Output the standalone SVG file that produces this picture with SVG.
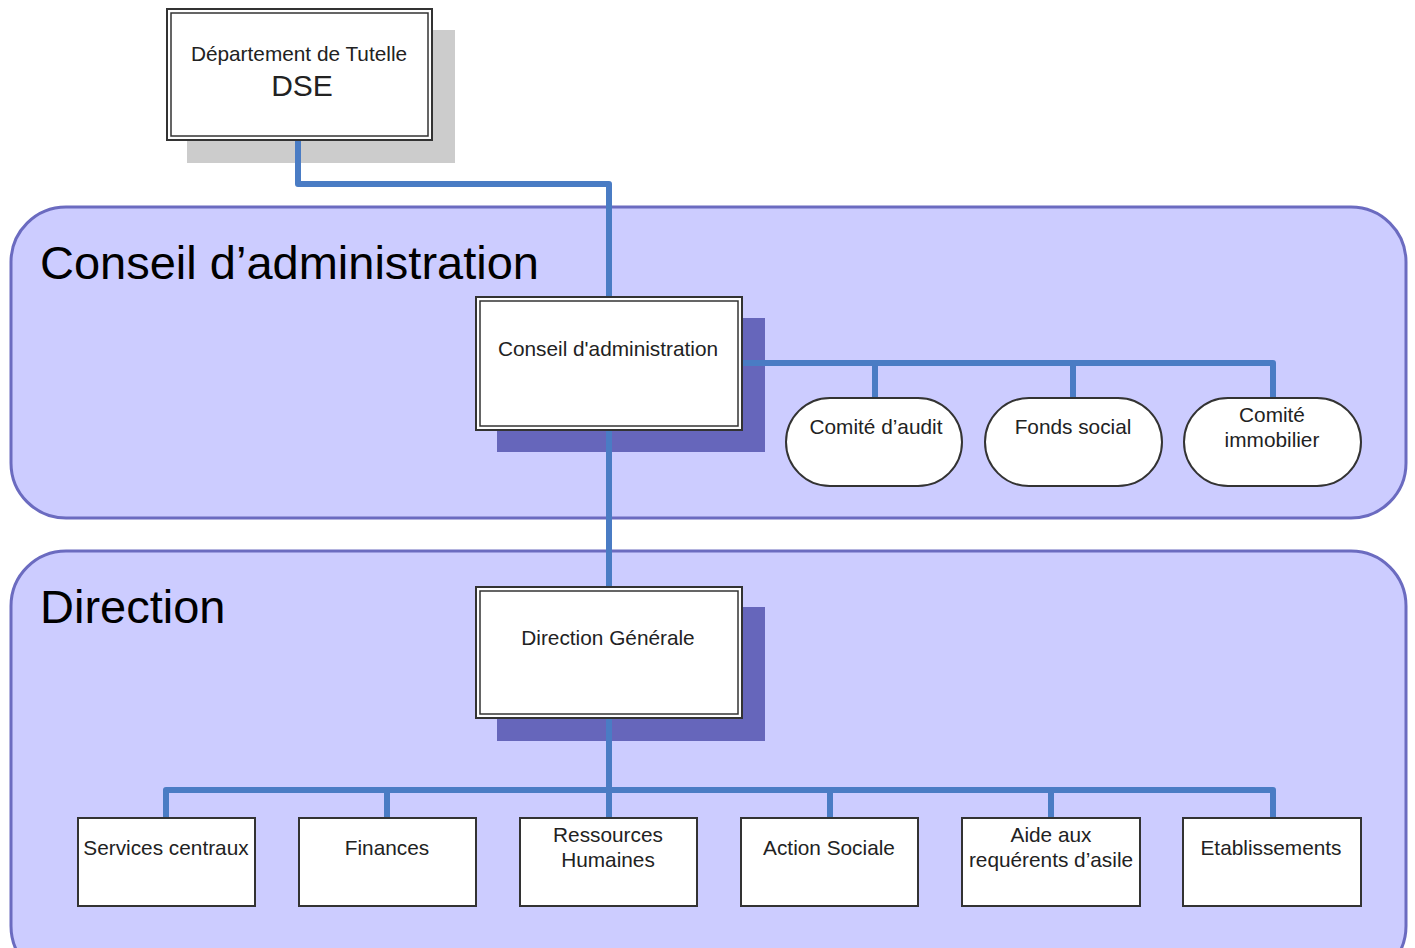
<svg xmlns="http://www.w3.org/2000/svg" width="1415" height="948" viewBox="0 0 1415 948">
<style>
.panel{fill:#ccccff;stroke:#6b6bc0;stroke-width:3}
.ptitle{font-family:"Liberation Sans",Arial,sans-serif;font-size:47px;fill:#000}
.t{font-family:"Liberation Sans",Arial,sans-serif;font-size:20.8px;fill:#222;text-anchor:middle}
.box{fill:#fff;stroke:#333;stroke-width:2}
.inner{fill:none;stroke:#333;stroke-width:1.5}
.shadow{fill:#6666bb}
.conn{fill:none;stroke:#4a7cc4;stroke-width:6;stroke-linejoin:round}
</style>
<rect width="1415" height="948" fill="#fff"/>
<g id="panel-ca">
<rect class="panel" x="11" y="207" width="1395" height="311" rx="55"/>
<text class="ptitle" x="40" y="279">Conseil d’administration</text>
</g>
<g id="panel-dir">
<rect class="panel" x="11" y="551" width="1395" height="430" rx="55"/>
<text class="ptitle" x="40" y="623">Direction</text>
</g>
<g id="dse">
<rect x="187" y="30" width="268" height="133" fill="#cccccc"/>
<rect class="box" x="167" y="9" width="265" height="131"/>
<rect class="inner" x="171" y="13" width="257" height="123"/>
<text class="t" x="299" y="61">Département de Tutelle</text>
<text class="t" x="302" y="96" style="font-size:30px">DSE</text>
</g>
<g id="ca">
<rect class="shadow" x="497" y="318" width="268" height="134"/>
<rect class="box" x="476" y="297" width="266" height="133"/>
<rect class="inner" x="480" y="301" width="258" height="125"/>
<text class="t" x="608" y="356">Conseil d'administration</text>
</g>
<g id="audit">
<rect class="box" x="786" y="398" width="176" height="88" rx="44" stroke-width="1.5"/>
<text class="t" x="876" y="434">Comité d’audit</text>
</g>
<g id="fonds">
<rect class="box" x="985" y="398" width="177" height="88" rx="44" stroke-width="1.5"/>
<text class="t" x="1073" y="434">Fonds social</text>
</g>
<g id="immo">
<rect class="box" x="1184" y="398" width="177" height="88" rx="44" stroke-width="1.5"/>
<text class="t" x="1272" y="422">Comité</text>
<text class="t" x="1272" y="447">immobilier</text>
</g>
<g id="dg">
<rect class="shadow" x="497" y="607" width="268" height="134"/>
<rect class="box" x="476" y="587" width="266" height="131"/>
<rect class="inner" x="480" y="591" width="258" height="123"/>
<text class="t" x="608" y="645">Direction Générale</text>
</g>
<g id="sc">
<rect class="box" x="78" y="818" width="177" height="88"/>
<text class="t" x="166" y="855">Services centraux</text>
</g>
<g id="fin">
<rect class="box" x="299" y="818" width="177" height="88"/>
<text class="t" x="387" y="855">Finances</text>
</g>
<g id="rh">
<rect class="box" x="520" y="818" width="177" height="88"/>
<text class="t" x="608" y="842">Ressources</text>
<text class="t" x="608" y="867">Humaines</text>
</g>
<g id="as">
<rect class="box" x="741" y="818" width="177" height="88"/>
<text class="t" x="829" y="855">Action Sociale</text>
</g>
<g id="ara">
<rect class="box" x="962" y="818" width="178" height="88"/>
<text class="t" x="1051" y="842">Aide aux</text>
<text class="t" x="1051" y="867">requérents d’asile</text>
</g>
<g id="etab">
<rect class="box" x="1183" y="818" width="178" height="88"/>
<text class="t" x="1271" y="855">Etablissements</text>
</g>
<g id="connectors">
<path class="conn" d="M298 141 V184 H609 V296"/>
<path class="conn" d="M609 431 V586"/>
<path class="conn" d="M743 363 H1273 V397 M875 363 V397 M1073 363 V397"/>
<path class="conn" d="M609 719 V817 M166 817 V790 H1273 V817 M387 790 V817 M830 790 V817 M1051 790 V817"/>
</g>
</svg>
